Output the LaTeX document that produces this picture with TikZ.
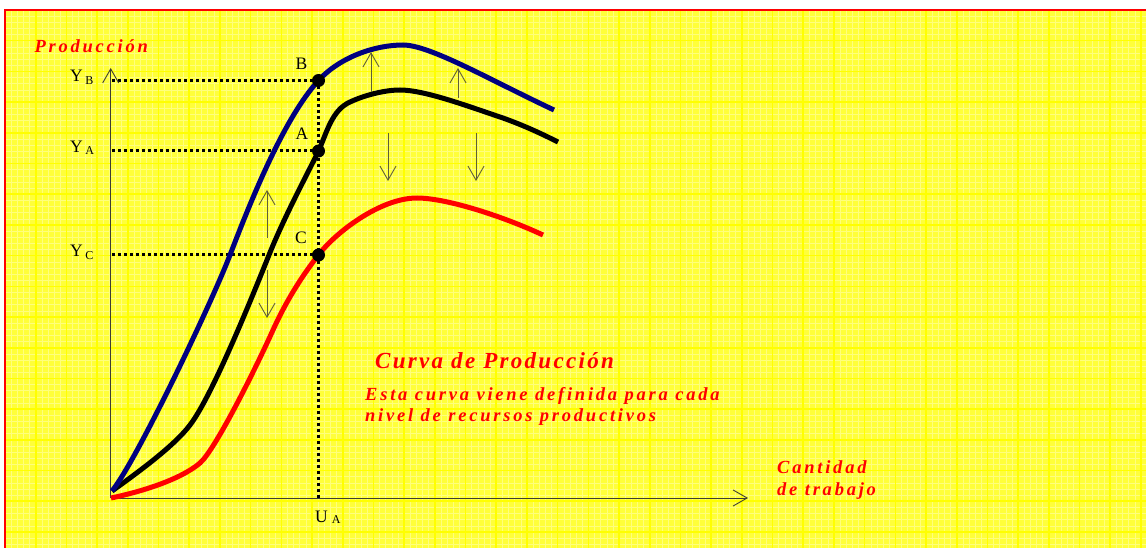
\documentclass[tikz,border=0pt]{standalone}
\usepackage{fontspec}
\setmainfont{Liberation Serif}
\newfontfamily\redA[LetterSpace=15]{Liberation Serif}
\newfontfamily\redB[LetterSpace=10]{Liberation Serif}
\usetikzlibrary{arrows.meta}
\definecolor{bgyel}{RGB}{255,255,58}
\definecolor{majyel}{RGB}{255,255,0}
\definecolor{minyel}{RGB}{255,255,125}
\definecolor{navyb}{RGB}{0,0,128}
\definecolor{txtred}{RGB}{255,0,0}
\definecolor{axisgray}{RGB}{60,60,50}
\definecolor{arrowol}{RGB}{95,95,55}
\begin{document}
\begin{tikzpicture}[x=1pt,y=-1pt,
  axisline/.style={draw=axisgray, line width=0.9pt, -{Straight Barb[length=14pt,width=16pt]}},
  movearrow/.style={draw=arrowol, line width=0.9pt, -{Straight Barb[length=14pt,width=16pt]}},
  guideline/.style={draw=black, line width=3pt, dash pattern=on 3pt off 3pt},
  prodcurve/.style={line width=5pt, line join=round, line cap=butt},
  ptdot/.style={circle, fill=black, inner sep=0pt, minimum size=13pt},
  lbl/.style={inner sep=0pt, font=\fontsize{17.5}{17.5}\selectfont},
  redsmall/.style={inner sep=0pt, text=txtred, font=\redA\bfseries\itshape\fontsize{18.5}{21}\selectfont},
  redbig/.style={inner sep=0pt, text=txtred, font=\redB\bfseries\itshape\fontsize{23}{26}\selectfont}
]
\useasboundingbox (0,0) rectangle (1146,548);
% background
\begin{scope}
\clip (5,10) rectangle (1146,548);
\fill[bgyel] (5,10) rectangle (1146,548);
\foreach \i in {0,...,186} \draw[minyel, line width=0.45pt] ({5+6.14*\i},10) -- ++(0,538);
\foreach \i in {0,...,88} \draw[minyel, line width=0.45pt] (5,{10+6.14*\i}) -- ++(1141,0);
\foreach \i in {1,...,37} \draw[majyel, line width=1.6pt] ({5+30.7*\i},10) -- ++(0,538);
\foreach \i in {1,...,18} \draw[majyel, line width=1.6pt] (5,{10+30.7*\i}) -- ++(1141,0);
\end{scope}
\draw[txtred, line width=2.2pt] (4.7,548) -- (4.7,10.3) -- (1146,10.3);

% coordinates
\coordinate (O) at (110.7,498);
\coordinate (ytip) at (110.7,68);
\coordinate (xtip) at (748,498);
\coordinate (yB) at (112,80.5);
\coordinate (yA) at (112,151);
\coordinate (yC) at (112,255);
\coordinate (uA) at (318.5,498);
\coordinate (B0) at (318.5,80.5);
\coordinate (A0) at (318.5,151);
\coordinate (C0) at (318.5,255);

% guide lines
\draw[guideline] (yB) -- (B0);
\draw[guideline] (yA) -- (A0);
\draw[guideline] (yC) -- (C0);
\draw[guideline] (B0) -- (uA);

% axes
\draw[axisline] (O) -- (ytip);
\draw[axisline] (O) -- (xtip);

% curves
\draw[prodcurve, txtred] (111,498) .. controls (140,492) and (180,480) .. (200,463)
  .. controls (215,450) and (255,370) .. (273,330)
  .. controls (288,297) and (305,272) .. (C0)
  .. controls (335,233) and (380,198) .. (417,198)
  .. controls (445,198) and (500,215) .. (543,235);
\draw[prodcurve, black] (112,491) .. controls (140,471) and (175,445) .. (190,425)
  .. controls (210,399) and (245,315) .. (269,255)
  .. controls (285,215) and (310,169) .. (A0)
  .. controls (327,132) and (332,110) .. (350,102)
  .. controls (365,95) and (385,90) .. (400,90)
  .. controls (425,90) and (470,107) .. (503,118)
  .. controls (525,126) and (540,133) .. (558,142);
\draw[prodcurve, navyb] (112,491) .. controls (137,460) and (212,302) .. (230,255)
  .. controls (250,203) and (283.5,118.5) .. (B0)
  .. controls (340,57) and (375,45) .. (403,45)
  .. controls (430,45) and (490,80) .. (554,110);

% points
\node[ptdot] (B) at (B0) {};
\node[ptdot] (A) at (A0) {};
\node[ptdot] (C) at (C0) {};

% shift arrows
\coordinate (s1a) at (371,92);  \coordinate (s1b) at (371,52);
\coordinate (s2a) at (458,98);  \coordinate (s2b) at (458,68);
\coordinate (s3a) at (388,133); \coordinate (s3b) at (388,181);
\coordinate (s4a) at (476,133); \coordinate (s4b) at (476,181);
\coordinate (s5a) at (267,238); \coordinate (s5b) at (267,190);
\coordinate (s6a) at (267,270); \coordinate (s6b) at (267,318);
\draw[movearrow] (s1a) -- (s1b);
\draw[movearrow] (s2a) -- (s2b);
\draw[movearrow] (s3a) -- (s3b);
\draw[movearrow] (s4a) -- (s4b);
\draw[movearrow] (s5a) -- (s5b);
\draw[movearrow] (s6a) -- (s6b);

% labels
\node[lbl] (labB) at (301.5,64) {B};
\node[lbl] (labA) at (302,134) {A};
\node[lbl] (labC) at (301,238) {C};
\node[lbl, anchor=base west] (labYB) at (70,81.7) {Y\kern2.5pt\raisebox{-3pt}{\fontsize{12}{12}\selectfont B}};
\node[lbl, anchor=base west] (labYA) at (70,153) {Y\kern2.5pt\raisebox{-2pt}{\fontsize{12}{12}\selectfont A}};
\node[lbl, anchor=base west] (labYC) at (70,257) {Y\kern2.5pt\raisebox{-2pt}{\fontsize{12}{12}\selectfont C}};
\node[lbl, anchor=base west] (labUA) at (315,522) {U\kern4pt\raisebox{-1pt}{\fontsize{12}{12}\selectfont A}};

% red texts
\node[redsmall, anchor=base west] (tprod) at (34.3,52.3) {Producción};
\node[redbig, anchor=base west] (tcurva) at (375,368) {Curva de Producción};
\node[redsmall, anchor=base west] (tdesc1) at (365,400) {Esta curva viene definida para cada};
\node[redsmall, anchor=base west] (tdesc2) at (365,421) {nivel de recursos productivos};
\node[redsmall, anchor=base west] (tcant1) at (777,473) {Cantidad};
\node[redsmall, anchor=base west] (tcant2) at (777,495) {de trabajo};
\end{tikzpicture}
\end{document}
